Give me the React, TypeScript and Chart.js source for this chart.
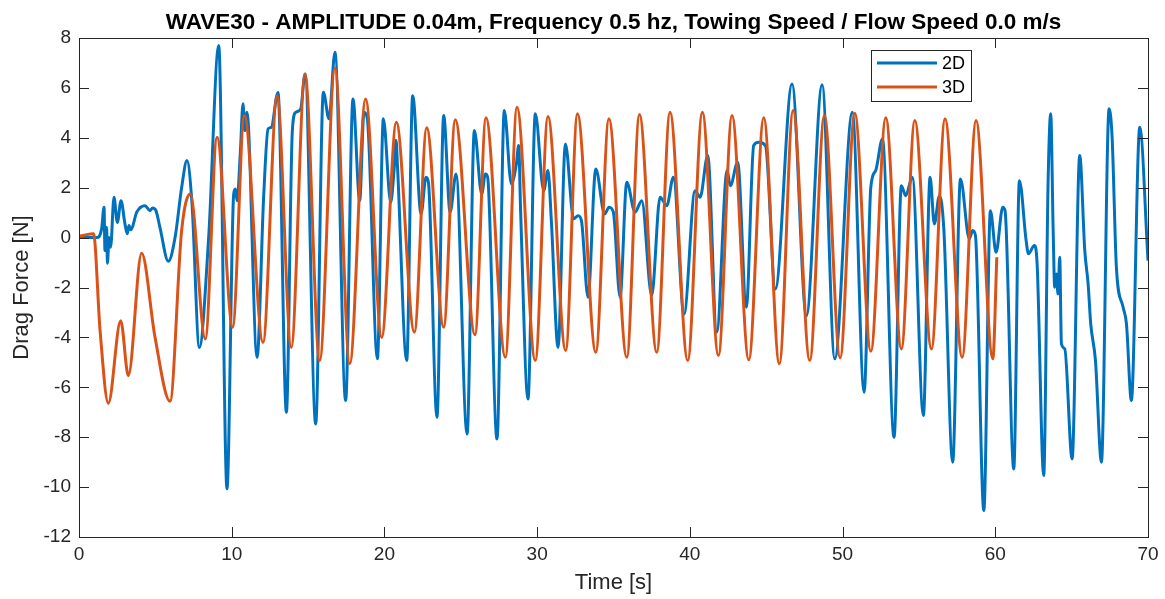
import { useEffect, useRef } from "react";
import { Chart, registerables } from "chart.js";

Chart.register(...registerables);

// ---- text ----
const TITLE = "WAVE30 - AMPLITUDE 0.04m, Frequency 0.5 hz, Towing Speed / Flow Speed 0.0 m/s";
const X_LABEL = "Time [s]";
const Y_LABEL = "Drag Force [N]";
const SERIES_NAMES = ["2D", "3D"];

// ---- axes ----
const X_TICKS = [0, 10, 20, 30, 40, 50, 60, 70];
const Y_TICKS = [-12, -10, -8, -6, -4, -2, 0, 2, 4, 6, 8];

// ---- 2D drag force (time [s], force [N]) ----
const time2D = [
  0, 0.6, 1.16, 1.48, 1.64, 1.7, 1.81, 1.86, 1.97, 2.07, 2.29, 2.51, 2.75, 3.01, 3.16, 3.27, 3.4, 3.78,
  4.32, 4.65, 4.82, 5.04, 5.3, 5.85, 6.29, 6.72, 7.07, 7.4, 7.88, 8.49, 9.15, 9.69, 10.13, 10.24, 10.35,
  10.56, 10.74, 10.85, 11.0, 11.66, 12.09, 12.38, 12.59, 13.03, 13.58, 13.97, 14.19, 14.52, 14.8, 15.5,
  16.0, 16.37, 16.76, 17.46, 17.94, 18.38, 18.66, 18.88, 19.54, 19.93, 20.41, 20.63, 20.76, 20.86, 21.46,
  21.85, 22.4, 22.72, 22.88, 23.44, 23.88, 24.3, 24.69, 25.41, 25.89, 26.37, 26.61, 26.76, 27.37, 27.85,
  28.31, 28.64, 28.79, 28.92, 29.4, 29.88, 30.43, 30.71, 30.93, 31.37, 31.85, 32.39, 32.68, 32.9, 33.33,
  33.84, 34.42, 34.71, 34.99, 35.43, 35.87, 36.41, 36.85, 37.5, 38.05, 38.49, 38.92, 39.62, 40.34, 40.67,
  41.17, 41.76, 42.44, 42.65, 43.13, 43.7, 44.18, 44.51, 44.95, 45.6, 46.69, 47.63, 48.66, 49.49, 50.64,
  51.41, 51.85, 52.17, 52.61, 53.37, 53.85, 54.13, 54.57, 55.29, 55.73, 56.01, 56.34, 56.63, 57.21, 57.72,
  58.3, 58.52, 58.7, 59.25, 59.68, 60.05, 60.49, 60.64, 61.21, 61.58, 62.02, 62.17, 62.56, 62.74, 63.17,
  63.46, 63.63, 63.79, 63.89, 64.0, 64.11, 64.22, 64.33, 64.55, 65.03, 65.53, 65.86, 66.08, 66.25, 66.56,
  66.95, 67.45, 67.65, 67.93, 68.37, 68.59, 68.91, 69.46, 70.0,
];
const force2D = [
  0, 0, 0, 0.35, 1.22, -0.52, 0.41, -1.03, 0, -0.39, 1.62, 0.61, 1.48, 0.55, 0.15, 0.48, 0.31, 1.02,
  1.28, 1.08, 1.19, 1.08, 0.41, -0.95, 0, 2.0, 3.09, 1.35, -4.4, 0, 7.7, -10.07, 1.75, 1.95, 1.48,
  3.35, 5.36, 4.29, 5.02, -4.8, 1.62, 4.36, 4.42, 5.82, -7.0, 4.29, 5.02, 5.16, 6.56, -7.47,
  5.83, 4.76, 7.43, -6.53, 5.56, 1.48, 5.02, 4.76, -4.86, 4.76, 1.42, 2.69, 3.9, 2.8, -4.93,
  5.69, 0.95, 2.42, 2.22, -7.2, 4.89, 1.02, 2.55, -7.87, 4.29, 1.75, 2.55, 2.42, -8.07, 5.09,
  2.15, 2.95, 3.69, 1.02, -6.47, 4.96, 1.88, 2.69, 0.68, -4.4, 3.75, 0.75, 0.88, 0.68, -2.39,
  2.75, 0.95, 1.22, 1.02, -2.39, 2.22, 1.02, 1.48, -2.32, 1.62, 1.28, 2.42, -3.06, 1.88, 1.62,
  3.29, -3.79, 2.69, 2.08, 3.02, -2.79, 3.69, 3.82, 3.69, -2.06, 6.16, -3.13, 6.13, -4.86, 5.02,
  -6.2, 2.02, 2.69, 3.95, -8.0, 2.08, 1.68, 2.42, -7.13, 2.42, 0.55, 1.68, 0.35, -9.0, 2.35,
  -0.05, 0.28, 0.08, -10.94, 1.08, -0.59, 1.22, 1.08, -9.27, 2.28, -0.12, -0.65, -0.32, -1.06, -9.54,
  2.28, 4.96, 0.28, -1.99, -1.46, -2.26, -0.79, -4.26, -4.46, -8.87, 3.29, -0.52, -1.86, -3.46, -4.93,
  -9.0, 5.16, 4.02, -1.19, -2.79, -3.46, -6.53, 4.42, -0.92,
];

// ---- 3D drag force (time [s], force [N]) ----
const time3D = [
  0, 0.5, 0.95, 1.38, 1.92, 2.73, 3.23, 4.1, 4.98, 5.96, 6.72, 7.29, 8.27, 9.04, 10.06, 10.83, 12.05,
  12.97, 13.9, 14.8, 15.76, 16.76, 17.73, 18.77, 19.82, 20.78, 21.96, 22.77, 23.88, 24.64, 25.93, 26.65,
  27.92, 28.68, 29.88, 30.71, 31.87, 32.64, 33.84, 34.7, 35.87, 36.7, 37.83, 38.7, 39.86, 40.82, 41.87,
  42.76, 43.86, 44.84, 45.86, 46.76, 47.85, 48.81, 49.84, 50.8, 51.85, 52.83, 53.85, 54.73, 55.82, 56.71,
  57.83, 58.74, 59.84, 60.1,
];
const force3D = [
  0.05, 0.12, 0.15, -3.73, -6.64, -3.33, -5.53, -0.63, -4.0, -6.56, 0.28, 1.75, -4.06, 4.02, -3.59, 4.89, -4.2,
  5.69, -4.4, 6.56, -4.93, 6.8, -5.06, 5.56, -4.0, 4.62, -3.79, 4.4, -3.59, 4.72, -3.89, 4.8,
  -4.8, 5.22, -4.93, 4.85, -4.53, 4.96, -4.6, 4.76, -4.8, 4.93, -4.6, 5.02, -4.93, 5.02, -4.73,
  4.89, -4.9, 4.8, -5.06, 5.09, -4.93, 4.89, -4.82, 4.98, -4.56, 4.8, -4.46, 4.69, -4.46, 4.76,
  -4.8, 4.69, -4.86, -0.79,
];

const FONT = "'Liberation Sans', Arial, Helvetica, sans-serif";
const AXIS_COLOR = "#262626";
const BLUE = "#0072BD";
const ORANGE = "#D95319";
const WIDTH = 1165;
const HEIGHT = 599;

const toPoints = (xs: number[], ys: number[]) => xs.map((x, i) => ({ x, y: ys[i] }));

// Box outline, inward tick marks on all four sides, title, axis labels and legend.
const decorations = {
  id: "decorations",
  afterDatasetsDraw(chart: any) {
    const { ctx, chartArea: a, scales } = chart;
    const tick = 10;
    ctx.save();
    ctx.strokeStyle = AXIS_COLOR;
    ctx.lineWidth = 1;
    ctx.beginPath();
    for (const v of X_TICKS) {
      const px = Math.round(scales.x.getPixelForValue(v)) + 0.5;
      ctx.moveTo(px, a.bottom);
      ctx.lineTo(px, a.bottom - tick);
      ctx.moveTo(px, a.top);
      ctx.lineTo(px, a.top + tick);
    }
    for (const v of Y_TICKS) {
      const py = Math.round(scales.y.getPixelForValue(v)) + 0.5;
      ctx.moveTo(a.left, py);
      ctx.lineTo(a.left + tick, py);
      ctx.moveTo(a.right, py);
      ctx.lineTo(a.right - tick, py);
    }
    ctx.stroke();
    ctx.strokeRect(Math.round(a.left) + 0.5, Math.round(a.top) + 0.5, Math.round(a.right - a.left), Math.round(a.bottom - a.top));

    // title
    const cx = (a.left + a.right) / 2;
    ctx.fillStyle = "#000";
    ctx.textAlign = "center";
    ctx.textBaseline = "alphabetic";
    ctx.font = `bold 22.5px ${FONT}`;
    ctx.fillText(TITLE, cx, 29);

    // axis labels
    ctx.fillStyle = AXIS_COLOR;
    ctx.font = `22px ${FONT}`;
    ctx.textBaseline = "middle";
    ctx.fillText(X_LABEL, cx, 583);
    ctx.save();
    ctx.translate(22, (a.top + a.bottom) / 2);
    ctx.rotate(-Math.PI / 2);
    ctx.fillText(Y_LABEL, 0, 0);
    ctx.restore();

    // legend
    const lx = 871.5, ly = 50.5, lw = 100, lh = 51;
    ctx.fillStyle = "#fff";
    ctx.fillRect(lx, ly, lw, lh);
    ctx.strokeStyle = AXIS_COLOR;
    ctx.strokeRect(lx, ly, lw, lh);
    const colors = [BLUE, ORANGE];
    const rows = [63, 87];
    ctx.font = `18px ${FONT}`;
    ctx.textAlign = "left";
    SERIES_NAMES.forEach((name, i) => {
      ctx.strokeStyle = colors[i];
      ctx.lineWidth = 3;
      ctx.beginPath();
      ctx.moveTo(877, rows[i]);
      ctx.lineTo(937, rows[i]);
      ctx.stroke();
      ctx.fillStyle = "#000";
      ctx.fillText(name, 942, rows[i] + 1);
    });
    ctx.restore();
  },
};

export default function App() {
  const canvasRef = useRef<HTMLCanvasElement | null>(null);

  useEffect(() => {
    const canvas = canvasRef.current;
    if (!canvas) return;
    const tickFont = { family: FONT, size: 19 };
    const chart = new Chart(canvas, {
      type: "line",
      data: {
        datasets: [
          {
            label: SERIES_NAMES[0],
            data: toPoints(time2D, force2D),
            borderColor: BLUE,
            backgroundColor: BLUE,
            borderWidth: 3,
            pointRadius: 0,
            fill: false,
            cubicInterpolationMode: "monotone",
            order: 1,
          },
          {
            label: SERIES_NAMES[1],
            data: toPoints(time3D, force3D),
            borderColor: ORANGE,
            backgroundColor: ORANGE,
            borderWidth: 3,
            pointRadius: 0,
            fill: false,
            cubicInterpolationMode: "monotone",
            order: 0,
          },
        ],
      },
      options: {
        responsive: false,
        animation: false,
        events: [],
        layout: { padding: { top: 38, right: 17, left: 0, bottom: 0 } },
        plugins: {
          legend: { display: false },
          title: { display: false },
          tooltip: { enabled: false },
        },
        scales: {
          x: {
            type: "linear",
            min: 0,
            max: 70,
            afterBuildTicks: (s: any) => {
              s.ticks = X_TICKS.map((value) => ({ value }));
            },
            afterFit: (s: any) => {
              s.height = 62;
            },
            grid: { display: false, drawTicks: false },
            border: { display: false },
            ticks: { font: tickFont, color: AXIS_COLOR, padding: 6, maxRotation: 0, autoSkip: false },
          },
          y: {
            type: "linear",
            min: -12,
            max: 8,
            afterBuildTicks: (s: any) => {
              s.ticks = Y_TICKS.map((value) => ({ value }));
            },
            afterFit: (s: any) => {
              s.width = 79;
            },
            grid: { display: false, drawTicks: false },
            border: { display: false },
            ticks: { font: tickFont, color: AXIS_COLOR, padding: 8, autoSkip: false },
          },
        },
      },
      plugins: [decorations],
    });
    return () => chart.destroy();
  }, []);

  return (
    <div style={{ position: "fixed", left: 0, top: 0, width: WIDTH, height: HEIGHT, background: "#fff" }}>
      <canvas ref={canvasRef} width={WIDTH} height={HEIGHT} style={{ display: "block" }} />
    </div>
  );
}
